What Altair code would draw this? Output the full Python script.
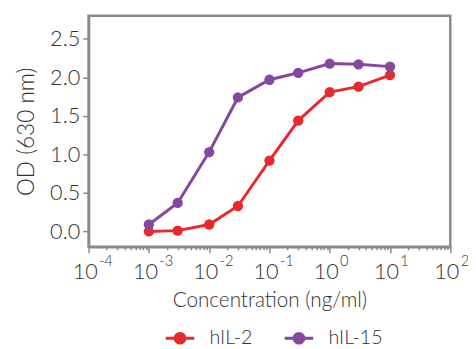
import altair as alt
import pandas as pd

conc = [0.001, 0.003, 0.01, 0.03, 0.1, 0.3, 1, 3, 10]
il2 = [0.00, 0.01, 0.09, 0.33, 0.92, 1.44, 1.81, 1.88, 2.03]
il15 = [0.09, 0.37, 1.03, 1.74, 1.97, 2.06, 2.18, 2.17, 2.14]
series = ["hIL-2", "hIL-15"]
colors = ["#e8292f", "#8647a0"]
decades = [1e-4, 1e-3, 1e-2, 1e-1, 1e0, 1e1, 1e2]
minor = [m * d for d in decades[:-1] for m in range(2, 10)]
yticks = [0.0, 0.5, 1.0, 1.5, 2.0, 2.5]

rows = []
for c, a, b in zip(conc, il2, il15):
    rows.append({"conc": c, "od": a, "series": series[0]})
    rows.append({"conc": c, "od": b, "series": series[1]})
df = pd.DataFrame(rows)

FONT = "Lato"
TXT = "#333333"
GRAY = "#8a8a8a"
SYM = "M -1 0 L 1 0 M 0.34 0 A 0.34 0.34 0 1 1 -0.34 0 A 0.34 0.34 0 1 1 0.34 0 Z"

xscale = alt.Scale(type="log", domain=[1e-4, 1e2], nice=False)
yscale = alt.Scale(domain=[-0.2, 2.8], nice=False, zero=False)
cscale = alt.Scale(domain=series, range=colors)

yaxis = alt.Axis(values=yticks, format=".1f", tickSize=6, tickWidth=1.5,
                 tickColor=GRAY, domainColor=GRAY, domainWidth=2.5,
                 labelFontSize=22, labelPadding=3,
                 title="OD (630 nm)", titleFontSize=23, titlePadding=11,
                 grid=False)
Y = alt.Y("od:Q", scale=yscale, axis=yaxis)

leg = alt.Legend(title=None, orient="none", direction="horizontal",
                 legendX=77, legendY=312,
                 symbolType=SYM, symbolSize=841, symbolStrokeWidth=3,
                 labelFontSize=20, labelOffset=14, columnPadding=26)
C = alt.Color("series:N", scale=cscale, legend=leg)

base = alt.Chart(df)

lines = base.mark_line(strokeWidth=3).encode(
    x=alt.X("conc:Q", scale=xscale,
            axis=alt.Axis(orient="bottom", values=decades, labelExpr="'10'",
                          tickSize=6, tickWidth=1.5, tickColor=GRAY,
                          domainColor=GRAY, domainWidth=2.5,
                          labelFontSize=22, labelOffset=-4, labelPadding=9,
                          labelFlush=False, labelOverlap=False,
                          title="Concentration (ng/ml)", titleFontSize=21,
                          titlePadding=8, grid=False)),
    y=Y,
    color=C,
)

points = base.mark_point(filled=True, size=110, opacity=1).encode(
    x=alt.X("conc:Q", scale=xscale,
            axis=alt.Axis(orient="bottom", values=decades,
                          labelExpr="'' + round(log(datum.value) / LN10)",
                          ticks=False, domain=False, labelFontSize=15,
                          labelAlign="left", labelOffset=10,
                          labelPadding=7, labelFlush=False, labelOverlap=False,
                          title=None, grid=False)),
    y=Y,
    color=C,
)

minor_layer = base.mark_point(opacity=0).encode(
    x=alt.X("conc:Q", scale=xscale,
            axis=alt.Axis(orient="bottom", values=minor, labels=False,
                          tickSize=3, tickWidth=1.5, tickColor=GRAY,
                          domain=False, title=None, grid=False)),
    y=Y,
)

chart = alt.layer(minor_layer, lines, points).resolve_axis(x="independent").properties(
    width=368, height=235,
    autosize=alt.AutoSizeParams(type="none"),
    padding={"left": 82, "top": 5, "right": 18, "bottom": 101},
).configure(font=FONT).configure_view(
    stroke=GRAY, strokeWidth=2.5
).configure_axis(
    labelFont=FONT, titleFont=FONT, labelColor=TXT, titleColor=TXT,
    labelFontWeight=300, titleFontWeight=300,
).configure_legend(
    labelFont=FONT, labelColor=TXT, labelFontWeight=300,
)

chart.save("out.html", embed_options={"renderer": "svg", "actions": False})
